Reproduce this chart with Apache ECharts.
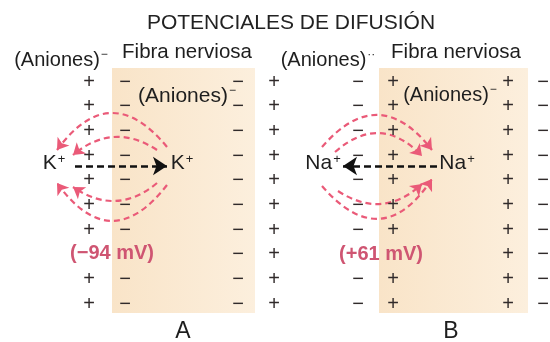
<!DOCTYPE html>
<html><head><meta charset="utf-8">
<script src="https://cdn.jsdelivr.net/npm/echarts@6.0.0/dist/echarts.min.js"></script>
<style>html,body{margin:0;padding:0;background:#fff}#c{width:550px;height:342px}</style>
</head><body><div id="c"></div><script>
// ---- content ----
const title = 'POTENCIALES DE DIFUSIÓN';
const panels = ['A', 'B'];
const ions = ['K', 'Na'];
const ionCharge = '+';
const potentials = ['(−94 mV)', '(+61 mV)'];
const outsideSigns = ['+', '−'];
const insideSigns = ['−', '+'];
const rows = ['1', '2', '3', '4', '5', '6', '7', '8', '9', '10'];
const potentialRow = '8';
const fiberLabel = 'Fibra nerviosa';
const anionLabel = '(Aniones)';
const outerAnionSup = ['−', '··'];
const innerAnionSup = ['−', '−'];

// ---- layout (pixel space of a 550x342 canvas) ----
const layout = [
  {
    cols: { outerL: 89, innerL: 125, innerR: 238, outerR: 274 },
    fiber: [112, 68, 255, 313],
    ionL: [54, 163], ionR: [182, 163],
    arrow: [[75, 166], [167, 166]],
    pot: [112, 253], letter: [183, 332],
    fib: [187, 52], outerAn: [61, 60], innerAn: [187, 96], innerSize: 21,
    arcs: [
      [[167, 147], [57, 150], -0.645],
      [[157, 150], [73, 155], -0.37],
      [[167, 185], [57, 183], 0.67],
      [[157, 183], [73, 187], 0.38]
    ]
  },
  {
    cols: { outerL: 358, innerL: 393, innerR: 508, outerR: 543 },
    fiber: [379, 68, 528, 313],
    ionL: [323, 163], ionR: [457, 163],
    arrow: [[437, 166], [343, 166]],
    pot: [381, 254], letter: [451, 332],
    fib: [456, 52], outerAn: [328, 60], innerAn: [450, 95], innerSize: 20,
    arcs: [
      [[322, 147], [432, 150], 0.61],
      [[335, 152], [422, 156], 0.48],
      [[322, 186], [432, 179], -0.66],
      [[338, 191], [422, 184], -0.39]
    ]
  }
];

const FONT = 'Liberation Sans';
const INK = '#1e1e1e';
const RED = '#ea5a78';

// signs
const signData = [];
panels.forEach((p, i) => {
  const c = layout[i].cols;
  rows.forEach(r => {
    const nearLabel = r === potentialRow;
    if (!nearLabel) signData.push({ value: [c.outerL, r], name: outsideSigns[i] });
    if (!nearLabel) signData.push({ value: [c.innerL, r], name: insideSigns[i] });
    signData.push({ value: [c.innerR, r], name: insideSigns[i] });
    signData.push({ value: [c.outerR, r], name: outsideSigns[i] });
  });
});

// texts
const texts = [];
panels.forEach((p, i) => {
  const l = layout[i];
  texts.push({ value: l.fib, name: fiberLabel, label: { fontSize: 20.5 } });
  texts.push({ value: l.outerAn, name: '{a|' + anionLabel + '}{s|' + outerAnionSup[i] + '}' });
  texts.push({ value: l.innerAn, name: '{b|' + anionLabel + '}{s|' + innerAnionSup[i] + '}',
               label: { rich: { b: { fontFamily: FONT, fontSize: l.innerSize, color: INK } } } });
  texts.push({ value: l.ionL, name: '{i|' + ions[i] + '}{c|' + ionCharge + '}' });
  texts.push({ value: l.ionR, name: '{i|' + ions[i] + '}{c|' + ionCharge + '}' });
  texts.push({ value: l.pot, name: potentials[i], label: { fontSize: 20, fontWeight: 'bold', color: '#cf5572' } });
  texts.push({ value: l.letter, name: p, label: { fontSize: 23 } });
});

const arcData = [];
const arrowData = [];
layout.forEach(l => {
  l.arcs.forEach(a => arcData.push({ coords: [a[0], a[1]], lineStyle: { curveness: a[2] } }));
  arrowData.push({ coords: l.arrow });
});

const chart = echarts.init(document.getElementById('c'), null, { renderer: 'canvas' });
chart.setOption({
  animation: false,
  backgroundColor: '#ffffff',
  title: {
    text: title, left: 286, textAlign: 'center', top: 8,
    textStyle: { fontFamily: FONT, fontSize: 21, fontWeight: 'normal', color: '#222' }
  },
  grid: [
    { left: 0, right: 0, top: 0, bottom: 0 },
    { left: 0, right: 0, top: 69.7, height: 246.7 }
  ],
  xAxis: [
    { type: 'value', min: 0, max: 550, show: false, gridIndex: 0 },
    { type: 'value', min: 0, max: 550, show: false, gridIndex: 1 }
  ],
  yAxis: [
    { type: 'value', min: 0, max: 342, inverse: true, show: false, gridIndex: 0 },
    { type: 'category', data: rows, inverse: true, show: false, gridIndex: 1 }
  ],
  series: [
    {
      type: 'custom', xAxisIndex: 0, yAxisIndex: 0, z: 0,
      data: layout.map(l => l.fiber),
      renderItem: (params, api) => {
        const p0 = api.coord([api.value(0), api.value(1)]);
        const p1 = api.coord([api.value(2), api.value(3)]);
        return {
          type: 'rect',
          shape: { x: p0[0], y: p0[1], width: p1[0] - p0[0], height: p1[1] - p0[1] },
          style: {
            fill: new echarts.graphic.LinearGradient(0, 0, 1, 0, [
              { offset: 0, color: '#f9e4c8' }, { offset: 1, color: '#fcefdd' }
            ])
          }
        };
      }
    },
    {
      type: 'lines', coordinateSystem: 'cartesian2d', xAxisIndex: 0, yAxisIndex: 0, z: 3,
      data: arcData,
      symbol: ['none', 'arrow'], symbolSize: [0, 11],
      lineStyle: { color: RED, width: 2.2, type: [6, 4], opacity: 1 }
    },
    {
      type: 'scatter', xAxisIndex: 1, yAxisIndex: 1, z: 4, symbolSize: 0,
      itemStyle: { opacity: 1 },
      data: signData,
      label: {
        show: true, position: 'inside', formatter: d => d.name,
        fontFamily: FONT, fontSize: 20, color: '#302a2a'
      }
    },
    {
      type: 'lines', coordinateSystem: 'cartesian2d', xAxisIndex: 0, yAxisIndex: 0, z: 5,
      data: arrowData,
      symbol: ['none', 'arrow'], symbolSize: [0, 14],
      lineStyle: { color: '#111', width: 2.5, type: [7, 4], opacity: 1 }
    },
    {
      type: 'scatter', xAxisIndex: 0, yAxisIndex: 0, z: 6, symbolSize: 0,
      itemStyle: { opacity: 1 },
      data: texts,
      label: {
        show: true, position: 'inside', formatter: d => d.name,
        fontFamily: FONT, fontSize: 20, color: INK,
        rich: {
          a: { fontFamily: FONT, fontSize: 20, color: INK },
          s: { fontFamily: FONT, fontSize: 12, color: INK, padding: [0, 0, 11, 1] },
          i: { fontFamily: FONT, fontSize: 21, color: INK },
          c: { fontFamily: FONT, fontSize: 13, color: INK, padding: [0, 0, 8, 1] }
        }
      }
    }
  ]
});
</script></body></html>
